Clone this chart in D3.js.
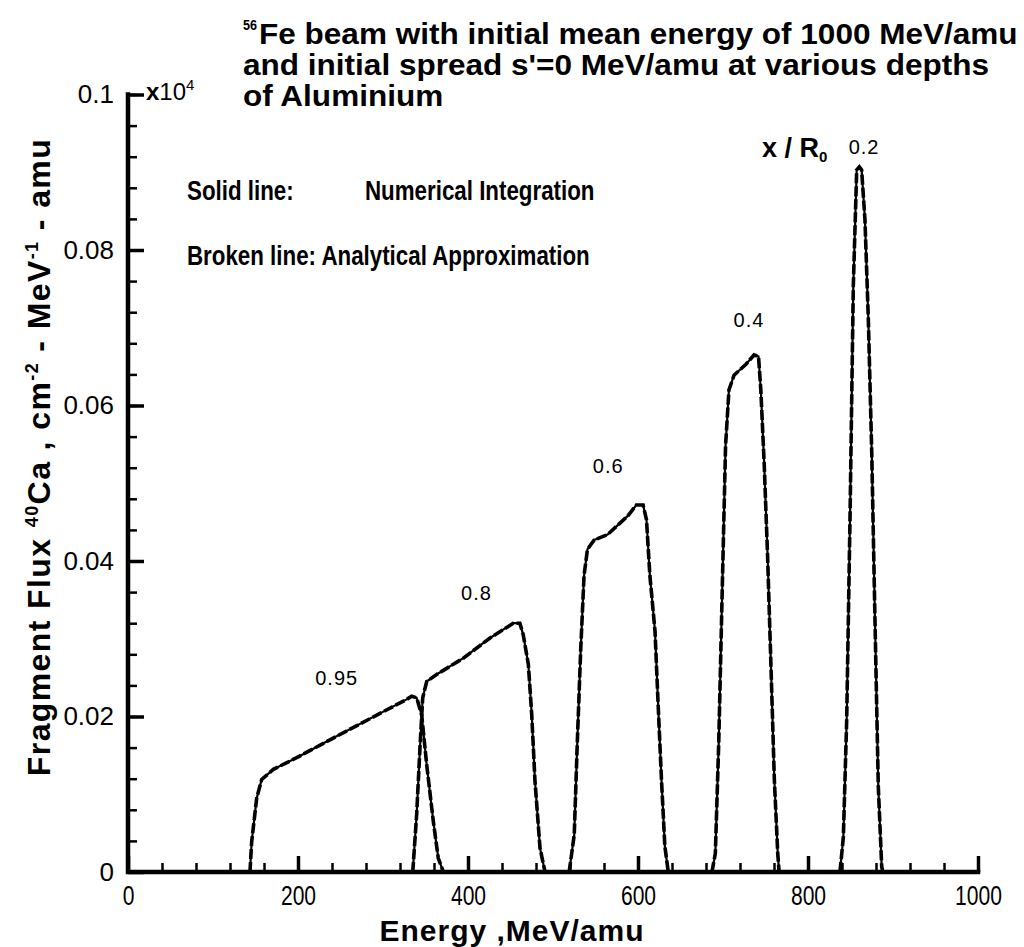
<!DOCTYPE html>
<html>
<head>
<meta charset="utf-8">
<script src="https://cdn.jsdelivr.net/npm/d3@7"></script>
<style>
body { margin: 0; background: #fff; }
svg { display: block; }
</style>
</head>
<body>
<div class="canvas"></div>
<script>
// flux values are in units of 1e-4 (axis reads "x10^4")
var depth_labels = ['0.95', '0.8', '0.6', '0.4', '0.2'];

var energy_095 = [143.5, 145.5, 151.4, 157.3, 171, 198.4, 237.6, 296.5, 327.8, 333.7, 339.6, 345.5, 351.4, 359.2, 365, 371];
var flux_095   = [0, 0.0039, 0.0095, 0.0119, 0.0132, 0.0147, 0.017, 0.0204, 0.0222, 0.0226, 0.0224, 0.0202, 0.0138, 0.0065, 0.0018, 0];

var energy_08 = [335, 339.6, 343.5, 346.7, 351.4, 363, 394.5, 425.9, 453.3, 461, 465, 471, 475, 478.8, 484.7, 490.6];
var flux_08   = [0, 0.0074, 0.016, 0.0224, 0.0245, 0.0254, 0.0275, 0.0301, 0.032, 0.032, 0.0305, 0.0267, 0.0202, 0.0117, 0.0031, 0];

var energy_06 = [519, 525, 528.6, 532.6, 536.5, 540.5, 548.5, 564.2, 588, 598, 606, 610, 614, 620, 623.7, 627.6, 631.6, 635.6];
var flux_06   = [0, 0.0048, 0.0167, 0.0286, 0.0381, 0.0415, 0.0427, 0.0434, 0.0458, 0.0472, 0.0472, 0.0453, 0.0381, 0.031, 0.0215, 0.0119, 0.0033, 0];

var energy_04 = [687, 691, 695, 699, 703, 707, 713, 727, 736.5, 741.8, 744.5, 748.5, 752.5, 756.5, 760.4, 764.4, 766];
var flux_04   = [0, 0.0024, 0.0167, 0.0358, 0.0548, 0.062, 0.0639, 0.0653, 0.0665, 0.0663, 0.062, 0.0524, 0.0405, 0.0262, 0.0119, 0.0024, 0];

var energy_02 = [837.6, 841.6, 845.5, 849.4, 853.3, 857.3, 860.4, 863.1, 867, 871, 875, 878.8, 882.7, 886.7, 888];
var flux_02   = [0, 0.0045, 0.0195, 0.0453, 0.0753, 0.0903, 0.0907, 0.0903, 0.0839, 0.071, 0.0539, 0.0324, 0.011, 0.0007, 0];

// where the depth labels sit, in data units
var label_energy = [245.5, 410, 565, 730.6, 866];
var label_flux   = [0.025, 0.0359, 0.0522, 0.071, 0.0933];

var x_major = [0, 200, 400, 600, 800, 1000];
var x_tick_labels = ['0', '200', '400', '600', '800', '1000'];
var y_major = [0, 0.02, 0.04, 0.06, 0.08, 0.1];
var y_tick_labels = ['0', '0.02', '0.04', '0.06', '0.08', '0.1'];

var title_lines = [
	'Fe beam with initial mean energy of 1000 MeV/amu',
	"and initial spread s'=0 MeV/amu at various depths",
	'of Aluminium'
];
var legend_lines = ['Solid line:', 'Numerical Integration', 'Broken line: Analytical Approximation'];

var WIDTH = 1024;
var HEIGHT = 947;
var FONT = '"Liberation Sans", Arial, sans-serif';

var svg = d3.select('div.canvas').append('svg')
	.attr('width', WIDTH).attr('height', HEIGHT);

var x = d3.scaleLinear().domain([0, 1000]).range([128, 978]);
var y = d3.scaleLinear().domain([0, 0.1]).range([872, 94.5]);

// bold text squeezed sideways by sx, like the narrow font of the original
function narrow_text(px, py, txt, size, sx) {
	return svg.append('text')
		.attr('transform', 'translate(' + px + ',' + py + ') scale(' + sx + ',1)')
		.attr('font-family', FONT).attr('font-weight', 'bold')
		.attr('font-size', size)
		.text(txt);
}

function squeeze_for(txt, size, want) {
	var t = svg.append('text').attr('font-family', FONT).attr('font-weight', 'bold')
		.attr('font-size', size).text(txt);
	var w = t.node().getComputedTextLength();
	t.remove();
	return want / w;
}

// --- ticks (inward) ---
var x_minor = d3.range(0, 1001, 40);
var y_minor = d3.range(0, 26).map(function(i) { return i * 0.004; });

function style_ticks(g, w) {
	g.select('.domain').remove();
	g.selectAll('.tick line').attr('stroke', '#000').attr('stroke-width', w);
}

svg.append('g').attr('transform', 'translate(0,' + y(0) + ')')
	.call(d3.axisBottom(x).tickValues(x_minor).tickSize(-9).tickFormat(''))
	.call(function(g) { style_ticks(g, 2.5); });

var gx = svg.append('g').attr('transform', 'translate(0,' + y(0) + ')')
	.call(d3.axisBottom(x).tickValues(x_major).tickSize(-16).tickPadding(14)
		.tickFormat(function(d, i) { return x_tick_labels[i]; }))
	.call(function(g) { style_ticks(g, 3.5); });
gx.selectAll('.tick text')
	.attr('font-family', FONT).attr('font-size', 27).attr('fill', '#000')
	.attr('transform', 'scale(0.78,1)');

svg.append('g').attr('transform', 'translate(' + x(0) + ',0)')
	.call(d3.axisLeft(y).tickValues(y_minor).tickSize(-9).tickFormat(''))
	.call(function(g) { style_ticks(g, 2.5); });

var gy = svg.append('g').attr('transform', 'translate(' + x(0) + ',0)')
	.call(d3.axisLeft(y).tickValues(y_major).tickSize(-16).tickPadding(14)
		.tickFormat(function(d, i) { return y_tick_labels[i]; }))
	.call(function(g) { style_ticks(g, 3.5); });
gy.selectAll('.tick text')
	.attr('font-family', FONT).attr('font-size', 26).attr('fill', '#000');

// thick axis lines
svg.append('path')
	.attr('d', 'M' + x(0) + ',' + y(0.1) + 'L' + x(0) + ',' + y(0) + 'L' + x(1000) + ',' + y(0))
	.attr('fill', 'none').attr('stroke', '#000').attr('stroke-width', 4.5)
	.attr('stroke-linecap', 'square');

// --- curves: solid = numerical, broken = analytical ---
var curves = [
	[energy_095, flux_095],
	[energy_08, flux_08],
	[energy_06, flux_06],
	[energy_04, flux_04],
	[energy_02, flux_02]
];

var line = d3.line()
	.x(function(d) { return x(d[0]); })
	.y(function(d) { return y(d[1]); });

for (var i = 0; i < curves.length; ++i) {
	var pts = curves[i][0].map(function(e, j) { return [e, curves[i][1][j]]; });
	svg.append('path').datum(pts).attr('d', line)
		.attr('fill', 'none').attr('stroke', '#000').attr('stroke-width', 2.2);
	svg.append('path').datum(pts).attr('d', line)
		.attr('fill', 'none').attr('stroke', '#000').attr('stroke-width', 3.6)
		.attr('stroke-dasharray', '10,3');
}

// depth labels
for (var i = 0; i < depth_labels.length; ++i) {
	svg.append('text')
		.attr('x', x(label_energy[i])).attr('y', y(label_flux[i]) + 7)
		.attr('text-anchor', 'middle')
		.attr('font-family', FONT).attr('font-size', 20)
		.attr('letter-spacing', 1)
		.text(depth_labels[i]);
}

// x / R0 label
var xr = svg.append('text').attr('x', 762).attr('y', 157)
	.attr('font-family', FONT).attr('font-weight', 'bold').attr('font-size', 27);
xr.append('tspan').text('x / R');
xr.append('tspan').attr('dy', 5).attr('font-size', 15).text('0');

// --- title ---
var title_size = 30;
var title_sx = squeeze_for(title_lines[0], title_size, 759);
svg.append('text').attr('x', 243).attr('y', 30)
	.attr('font-family', FONT).attr('font-weight', 'bold').attr('font-size', 15)
	.attr('textLength', 14).attr('lengthAdjust', 'spacingAndGlyphs')
	.text('56');
narrow_text(259, 44, title_lines[0], title_size, title_sx);
narrow_text(243, 75, title_lines[1], title_size, title_sx);
narrow_text(243, 106, title_lines[2], title_size, title_sx);

// x10^4 multiplier
var mul = svg.append('text').attr('x', 146).attr('y', 100)
	.attr('font-family', FONT).attr('font-size', 24);
mul.append('tspan').attr('font-weight', 'bold').text('x');
mul.append('tspan').text('10');
mul.append('tspan').attr('dy', -10).attr('font-size', 15).text('4');

// --- legend text ---
var legend_size = 28;
var legend_sx = squeeze_for(legend_lines[2], legend_size, 403);
narrow_text(187, 200, legend_lines[0], legend_size, legend_sx);
narrow_text(365, 200, legend_lines[1], legend_size, legend_sx);
narrow_text(187, 265, legend_lines[2], legend_size, legend_sx);

// --- axis titles ---
svg.append('text').attr('x', 512).attr('y', 941)
	.attr('text-anchor', 'middle')
	.attr('font-family', FONT).attr('font-weight', 'bold').attr('font-size', 30)
	.attr('letter-spacing', 1)
	.text('Energy ,MeV/amu');

var yl = svg.append('text')
	.attr('transform', 'translate(50,457) rotate(-90)')
	.attr('text-anchor', 'middle')
	.attr('font-family', FONT).attr('font-weight', 'bold').attr('font-size', 32)
	.attr('letter-spacing', 1.4);
yl.append('tspan').text('Fragment Flux ');
yl.append('tspan').attr('dy', -12).attr('font-size', 18).text('40');
yl.append('tspan').attr('dy', 12).text('Ca , cm');
yl.append('tspan').attr('dy', -12).attr('font-size', 18).text('-2');
yl.append('tspan').attr('dy', 12).text(' - MeV');
yl.append('tspan').attr('dy', -12).attr('font-size', 18).text('-1');
yl.append('tspan').attr('dy', 12).text(' - amu');
</script>
</body>
</html>
